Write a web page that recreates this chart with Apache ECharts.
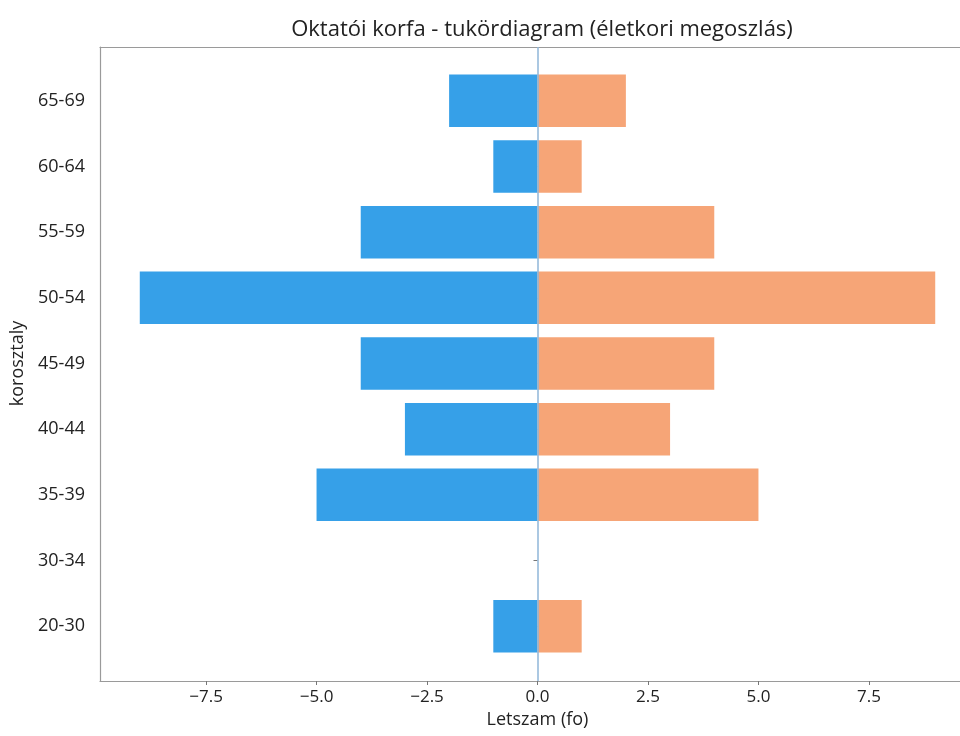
<!DOCTYPE html>
<html>
<head>
<meta charset="utf-8">
<script src="https://cdn.jsdelivr.net/npm/echarts@6/dist/echarts.min.js"></script>
<style>
html,body{margin:0;padding:0;background:#fff;}
#chart{width:960px;height:736px;}
</style>
</head>
<body>
<div id="chart"></div>
<script>
const categories = ['20-30','30-34','35-39','40-44','45-49','50-54','55-59','60-64','65-69'];
const leftValues = [-1, 0, -5, -3, -4, -9, -4, -1, -2];
const rightValues = [1, 0, 5, 3, 4, 9, 4, 1, 2];
const xTicks = [-7.5, -5.0, -2.5, 0.0, 2.5, 5.0, 7.5];
const xMin = -9.9, xMax = 9.9;

const FONT = '"Open Sans", "DejaVu Sans", sans-serif';
const FRAME = {show: true, onZero: false, lineStyle: {color: '#9a9a9a', width: 1.2}};
const chart = echarts.init(document.getElementById('chart'), null, {renderer: 'canvas'});

function fmt(v) {
  const s = Math.abs(v).toFixed(1);
  return v < 0 ? '\u2212' + s : s;
}

chart.setOption({
  animation: false,
  backgroundColor: '#ffffff',
  title: {
    text: 'Oktatói korfa - tukördiagram (életkori megoszlás)',
    left: 537,
    textAlign: 'center',
    top: 14,
    textStyle: {fontFamily: FONT, fontSize: 22, fontWeight: 'normal', color: '#222'}
  },
  grid: [
    {left: 100, top: 47, width: 875, height: 634, show: false, outerBoundsMode: 'none', containLabel: false},
    {left: 100, top: 68, width: 875, height: 591, outerBoundsMode: 'none', containLabel: false}
  ],
  xAxis: [
    {gridIndex: 0, type: 'value', min: xMin, max: xMax, position: 'bottom',
     axisLine: FRAME, axisTick: {show: false}, axisLabel: {show: false}, splitLine: {show: false}},
    {gridIndex: 0, type: 'value', min: xMin, max: xMax, position: 'top',
     axisLine: FRAME, axisTick: {show: false}, axisLabel: {show: false}, splitLine: {show: false}},
    {
      gridIndex: 1, type: 'value', min: xMin, max: xMax, offset: 22,
      axisLine: {show: false},
      splitLine: {show: false},
      axisTick: {show: true, customValues: xTicks, length: 4, lineStyle: {color: '#777'}},
      axisLabel: {customValues: xTicks, formatter: fmt, margin: 8, color: '#222', fontFamily: FONT, fontSize: 17},
      name: 'Letszam (fo)', nameLocation: 'middle', nameGap: 28,
      nameTextStyle: {color: '#222', fontFamily: FONT, fontSize: 18}
    }
  ],
  yAxis: [
    {gridIndex: 0, type: 'value', min: 0, max: 1, position: 'left',
     axisLine: FRAME, axisTick: {show: false}, axisLabel: {show: false}, splitLine: {show: false}},
    {
      gridIndex: 1, type: 'category', data: categories, boundaryGap: true,
      axisLine: {show: false},
      axisTick: {show: true, alignWithLabel: true, length: 4, lineStyle: {color: '#777'}},
      axisLabel: {margin: 15, color: '#222', fontFamily: FONT, fontSize: 18},
      name: 'korosztaly', nameLocation: 'middle', nameGap: 68, nameRotate: 90,
      nameTextStyle: {color: '#222', fontFamily: FONT, fontSize: 18}
    }
  ],
  series: [
    {
      type: 'bar', xAxisIndex: 2, yAxisIndex: 1, data: leftValues,
      barWidth: '80%', barGap: '-100%',
      itemStyle: {color: '#36a0e8'}
    },
    {
      type: 'bar', xAxisIndex: 2, yAxisIndex: 1, data: rightValues,
      barWidth: '80%', barGap: '-100%',
      itemStyle: {color: '#f6a577'}
    },
    {
      type: 'scatter', xAxisIndex: 0, yAxisIndex: 0, data: [], z: 10,
      markLine: {
        silent: true, symbol: 'none', label: {show: false},
        lineStyle: {color: '#8fb6d8', width: 1.5, type: 'solid'},
        data: [{xAxis: 0}]
      }
    }
  ]
});
</script>
</body>
</html>
